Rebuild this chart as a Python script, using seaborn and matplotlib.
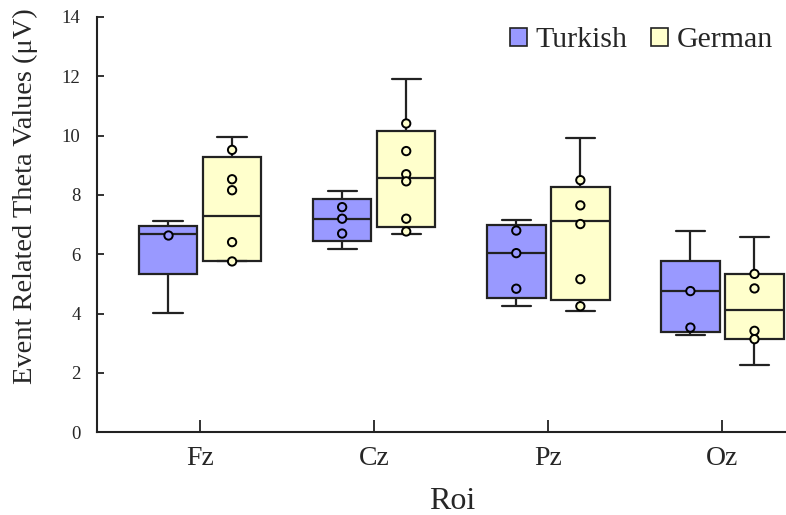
import numpy as np
import pandas as pd
import seaborn as sns
import matplotlib.pyplot as plt
from matplotlib.patches import Patch

# Regions of interest and groups
rois = ["Fz", "Cz", "Pz", "Oz"]
groups = ["Turkish", "German"]

# Five-number summaries per ROI: lower whisker, Q1, median, Q3, upper whisker
turkish_box = [
    [4.01, 5.32, 6.67, 6.95, 7.13],
    [6.17, 6.44, 7.19, 7.85, 8.14],
    [4.26, 4.54, 6.03, 6.98, 7.16],
    [3.27, 3.37, 4.76, 5.78, 6.79],
]
german_box = [
    [5.76, 5.78, 7.29, 9.27, 9.96],
    [6.70, 6.93, 8.57, 10.16, 11.92],
    [4.09, 4.45, 7.12, 8.28, 9.91],
    [2.28, 3.13, 4.12, 5.32, 6.59],
]

# Individual observations overlaid on the boxes
turkish_pts = [
    [6.64],
    [7.59, 7.20, 6.70],
    [6.80, 6.04, 4.84],
    [4.76, 3.53],
]
german_pts = [
    [9.52, 8.53, 8.16, 6.41, 5.76],
    [10.41, 9.48, 8.70, 8.46, 7.20, 6.77],
    [8.50, 7.65, 7.02, 5.16, 4.25],
    [5.34, 4.85, 3.42, 3.14],
]

y_ticks = [0, 2, 4, 6, 8, 10, 12, 14]
palette = {"Turkish": "#9999ff", "German": "#ffffcc"}
edge = "#222222"


def long_table(series_by_group):
    rows = []
    for grp, per_roi in series_by_group.items():
        for roi, vals in zip(rois, per_roi):
            for v in vals:
                rows.append({"Roi": roi, "Group": grp, "Value": v})
    return pd.DataFrame(rows)


box_df = long_table({"Turkish": turkish_box, "German": german_box})
pts_df = long_table({"Turkish": turkish_pts, "German": german_pts})

sns.set_style("white")
plt.rcParams["font.family"] = ["Liberation Serif", "DejaVu Serif"]

fig = plt.figure(figsize=(7.86, 5.15), dpi=100)
ax = fig.add_axes([0.1238, 0.1606, 0.8762, 0.8064])

box_width = 0.736
sns.boxplot(
    data=box_df, x="Roi", y="Value", hue="Group",
    order=rois, hue_order=groups, palette=palette, saturation=1,
    whis=(0, 100), width=box_width, gap=0.087,
    linecolor=edge, linewidth=1.6, showfliers=False,
    legend=False, ax=ax,
)

sns.stripplot(
    data=pts_df, x="Roi", y="Value", hue="Group",
    order=rois, hue_order=groups, palette=palette,
    dodge=True, jitter=False, size=6, linewidth=1.4,
    edgecolor="black", legend=False, ax=ax, zorder=5,
)

# Align the dodged points with the box centres
scale = box_width / 0.8
for coll in ax.collections:
    offs = coll.get_offsets()
    if len(offs):
        base = np.round(offs[:, 0])
        offs[:, 0] = base + (offs[:, 0] - base) * scale
        coll.set_offsets(offs)

ax.set_xlim(-0.59, 3.365)
ax.set_ylim(0, 14)
ax.set_yticks(y_ticks)
ax.set_yticklabels([str(t) for t in y_ticks])

sns.despine(ax=ax)
for side in ("left", "bottom"):
    ax.spines[side].set_color(edge)
    ax.spines[side].set_linewidth(1.5)

ax.tick_params(axis="y", direction="in", length=5, width=1.3, color=edge,
               labelsize=13.5, pad=12, left=True)
ax.tick_params(axis="x", direction="in", length=9, width=1.3, color=edge,
               labelsize=20, pad=10, bottom=True)

ax.set_ylabel("Event Related Theta Values (\u03bcV)", fontsize=20.5)
ax.yaxis.set_label_coords(-0.086, 0.569)
ax.set_xlabel("Roi", fontsize=23)
ax.xaxis.set_label_coords(0.515, -0.132)

handles = [Patch(facecolor=palette[g], edgecolor=edge, linewidth=1.2, label=g)
           for g in groups]
ax.legend(handles=handles, loc="upper right", bbox_to_anchor=(1.0203, 1.04),
          ncol=2, frameon=False, fontsize=21.5, handlelength=0.55,
          handleheight=0.55, handletextpad=0.3, columnspacing=0.8)

fig.savefig("out.png", dpi=100)
